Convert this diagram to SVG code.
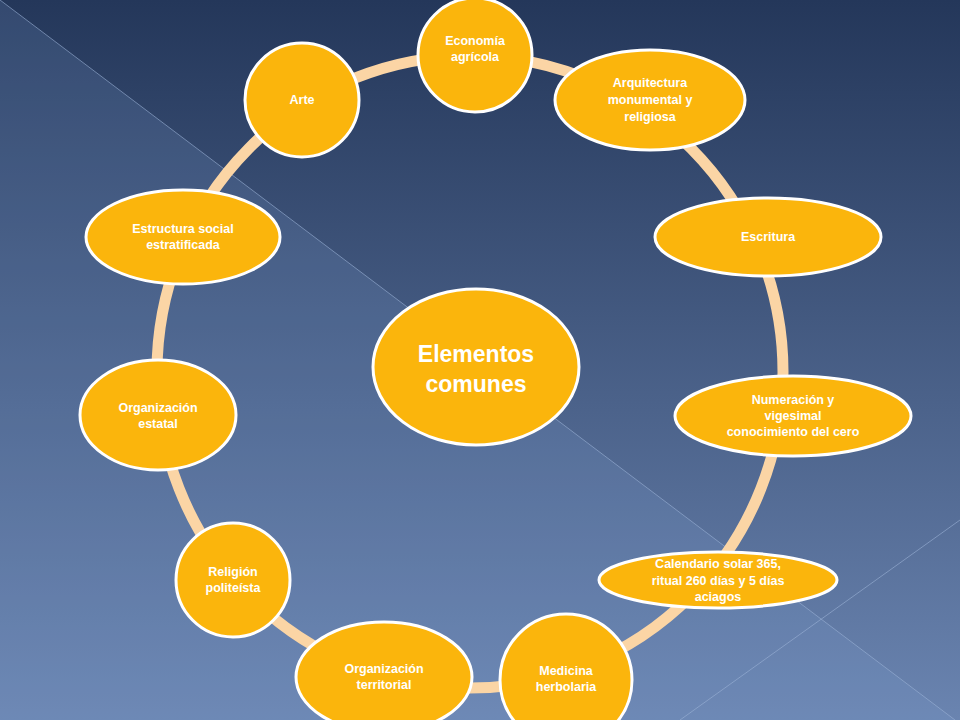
<svg xmlns="http://www.w3.org/2000/svg" width="960" height="720" viewBox="0 0 960 720">
<defs>
<linearGradient id="bg" x1="0" y1="0" x2="0" y2="1"><stop offset="0" stop-color="#24375a"/><stop offset="1" stop-color="#6a84b0"/></linearGradient>
<style>
.n{fill:#fbb50c;stroke:#fff;stroke-width:3}
.t{font-family:"Century Gothic","Liberation Sans",sans-serif;font-weight:bold;fill:#fff;font-size:12.5px;text-anchor:middle}
</style>
</defs>
<rect width="960" height="720" fill="url(#bg)"/>
<polygon points="0,0 955,720 0,720" fill="#7fa0d0" opacity="0.18"/>
<line x1="0" y1="0" x2="955" y2="720" stroke="#9bb2d6" stroke-width="1" opacity="0.6"/>
<line x1="680" y1="720" x2="960" y2="520" stroke="#9bb2d6" stroke-width="1" opacity="0.6"/>
<g id="connectors"><ellipse cx="470" cy="372" rx="313" ry="316" fill="none" stroke="#fbd5a5" stroke-width="11"/></g>
<g id="center"><ellipse class="n" cx="476" cy="367" rx="103" ry="78"/><text class="t" style="font-size:23px" x="476" y="362">Elementos</text><text class="t" style="font-size:23px" x="476" y="392">comunes</text></g>
<g id="economia"><circle class="n" cx="475" cy="55" r="57"/><text class="t" x="475" y="45">Economía</text><text class="t" x="475" y="61">agrícola</text></g>
<g id="arte"><circle class="n" cx="302" cy="100" r="57"/><text class="t" x="302" y="104">Arte</text></g>
<g id="arquitectura"><ellipse class="n" cx="650" cy="100" rx="95" ry="50"/><text class="t" x="650" y="87">Arquitectura</text><text class="t" x="650" y="104">monumental y</text><text class="t" x="650" y="121">religiosa</text></g>
<g id="escritura"><ellipse class="n" cx="768" cy="237" rx="113" ry="39"/><text class="t" x="768" y="241">Escritura</text></g>
<g id="estructura"><ellipse class="n" cx="183" cy="237" rx="97" ry="47"/><text class="t" x="183" y="233">Estructura social</text><text class="t" x="183" y="249">estratificada</text></g>
<g id="numeracion"><ellipse class="n" cx="793" cy="416" rx="118" ry="40"/><text class="t" x="793" y="404">Numeración y</text><text class="t" x="793" y="420">vigesimal</text><text class="t" x="793" y="436">conocimiento del cero</text></g>
<g id="estatal"><ellipse class="n" cx="158" cy="415" rx="78" ry="55"/><text class="t" x="158" y="412">Organización</text><text class="t" x="158" y="428">estatal</text></g>
<g id="calendario"><ellipse class="n" cx="718" cy="580" rx="119" ry="28"/><text class="t" x="718" y="568">Calendario solar 365,</text><text class="t" x="718" y="585">ritual 260 días y 5 días</text><text class="t" x="718" y="601">aciagos</text></g>
<g id="religion"><circle class="n" cx="233" cy="580" r="57"/><text class="t" x="233" y="576">Religión</text><text class="t" x="233" y="592">politeísta</text></g>
<g id="territorial"><ellipse class="n" cx="384" cy="677" rx="88" ry="55"/><text class="t" x="384" y="673">Organización</text><text class="t" x="384" y="689">territorial</text></g>
<g id="medicina"><circle class="n" cx="566" cy="680" r="66"/><text class="t" x="566" y="675">Medicina</text><text class="t" x="566" y="691">herbolaria</text></g>
</svg>
